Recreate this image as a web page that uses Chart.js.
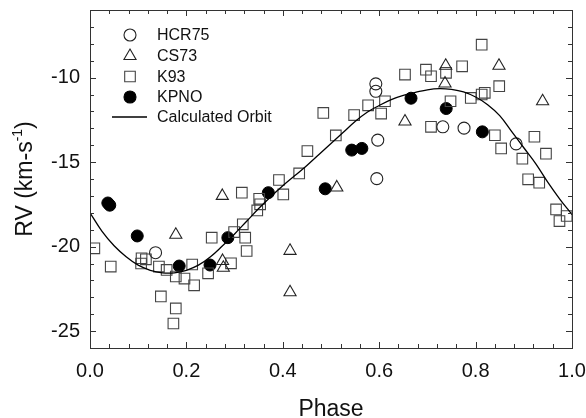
<!DOCTYPE html>
<html>
<head>
<meta charset="utf-8">
<script src="https://cdn.jsdelivr.net/npm/chart.js@4.4.0/dist/chart.umd.min.js"></script>
<style>
  html, body { margin: 0; padding: 0; background: #fff; }
  #wrap { width: 586px; height: 418px; }
</style>
</head>
<body>
<div id="wrap"><canvas id="rvChart" width="586" height="418"></canvas></div>
<script>
// Radial velocity vs orbital phase

// HCR75 (open circles)
const hcrPhase = [0.136, 0.593, 0.593, 0.597, 0.595, 0.732, 0.776, 0.884];
const hcrRV = [-20.36, -10.37, -10.81, -13.70, -15.98, -12.91, -12.99, -13.92];

// CS73 (open triangles)
const csPhase = [0.178, 0.2745, 0.275, 0.2766, 0.415, 0.415, 0.512, 0.6535, 0.738, 0.7365, 0.8485, 0.939];
const csRV = [-19.3, -17.0, -20.85, -21.25, -20.25, -22.7, -16.5, -12.6, -9.3, -10.35, -9.3, -11.4];

// K93 (open squares)
const k93Phase = [
  0.009, 0.043, 0.107, 0.106, 0.116, 0.143, 0.159, 0.178, 0.196, 0.216,
  0.147, 0.178, 0.173, 0.212, 0.245, 0.2525, 0.484, 0.510, 0.451, 0.434,
  0.392, 0.401, 0.315, 0.351, 0.353, 0.347, 0.317, 0.299, 0.322, 0.325,
  0.2925, 0.548, 0.577, 0.612, 0.604, 0.6535, 0.697, 0.7075, 0.7386, 0.7075,
  0.8126, 0.772, 0.748, 0.790, 0.8126, 0.819, 0.849, 0.840, 0.853, 0.922,
  0.897, 0.946, 0.909, 0.932, 0.967, 0.974, 0.989
];
const k93RV = [
  -20.1, -21.18, -20.69, -21.0, -20.75, -21.18, -21.38, -21.77, -21.89, -22.29,
  -22.95, -23.66, -24.55, -21.06, -21.58, -19.47, -12.09, -13.42, -14.35, -15.67,
  -16.06, -16.91, -16.81, -17.17, -17.5, -17.86, -18.68, -19.14, -19.47, -20.26,
  -20.99, -12.22, -11.64, -11.4, -12.13, -9.82, -9.53, -9.92, -9.72, -12.91,
  -8.05, -9.33, -11.4, -11.2, -11.0, -10.9, -10.51, -13.41, -14.19, -13.5,
  -14.8, -14.5, -16.02, -16.22, -17.8, -18.49, -18.19
];

// KPNO (filled circles)
const kpnoPhase = [0.037, 0.041, 0.098, 0.185, 0.249, 0.286, 0.370, 0.488, 0.543, 0.564, 0.666, 0.739, 0.814];
const kpnoRV = [-17.42, -17.55, -19.37, -21.15, -21.09, -19.47, -16.81, -16.58, -14.29, -14.19, -11.22, -11.83, -13.21];

// Calculated orbit
const orbitPhase = [
  0.0, 0.025, 0.05, 0.075, 0.1, 0.125, 0.15, 0.175, 0.2, 0.225,
  0.25, 0.275, 0.3, 0.325, 0.35, 0.375, 0.4, 0.425, 0.45, 0.475,
  0.5, 0.525, 0.55, 0.575, 0.6, 0.625, 0.65, 0.675, 0.7, 0.725,
  0.75, 0.775, 0.8, 0.825, 0.85, 0.875, 0.9, 0.925, 0.95, 0.975, 1.0
];
const orbitRV = [
  -18.0, -19.1, -19.95, -20.6, -21.1, -21.4, -21.55, -21.55, -21.4, -21.1,
  -20.6, -19.95, -19.25, -18.5, -17.75, -17.05, -16.4, -15.8, -15.2, -14.55,
  -13.9, -13.25, -12.6, -12.05, -11.65, -11.3, -11.05, -10.88, -10.72, -10.65,
  -10.7, -10.85, -11.15, -11.6, -12.25, -13.2, -14.15, -15.1, -16.2, -17.2, -18.1
];

const xTicks = [0.0, 0.2, 0.4, 0.6, 0.8, 1.0];
const yTicks = [-25, -20, -15, -10];

const FONT = '"Liberation Sans", Arial, Helvetica, sans-serif';
const INK = '#111';
const AXIS_COLOR = '#333';

function toPoints(xs, ys) {
  return xs.map((v, i) => ({ x: v, y: ys[i] }));
}

// Draw a legend marker like the chart's point styles
function drawMarker(ctx, style, x, y, r, fill, stroke) {
  ctx.beginPath();
  if (style === 'circle') {
    ctx.arc(x, y, r, 0, Math.PI * 2);
  } else if (style === 'triangle') {
    ctx.moveTo(x, y - r);
    ctx.lineTo(x + r * Math.sin(Math.PI / 3), y + r / 2);
    ctx.lineTo(x - r * Math.sin(Math.PI / 3), y + r / 2);
    ctx.closePath();
  } else if (style === 'rect') {
    const s = r * Math.SQRT1_2;
    ctx.rect(x - s, y - s, 2 * s, 2 * s);
  }
  if (fill) {
    ctx.fillStyle = fill;
    ctx.fill();
  }
  ctx.strokeStyle = stroke;
  ctx.lineWidth = 1.1;
  ctx.stroke();
}

// Box, inward ticks, axis titles and legend
const decorPlugin = {
  id: 'decor',
  afterDraw(chart) {
    const { ctx, chartArea: a, scales } = chart;
    const xs = scales.x, ys = scales.y;
    ctx.save();

    ctx.strokeStyle = AXIS_COLOR;
    ctx.lineWidth = 1;
    ctx.strokeRect(Math.round(a.left) + 0.5, Math.round(a.top) + 0.5,
      Math.round(a.right - a.left), Math.round(a.bottom - a.top));

    ctx.beginPath();
    for (let i = 0; i <= 25; i++) {
      const v = i * 0.04;
      const px = Math.round(xs.getPixelForValue(v)) + 0.5;
      const len = i % 5 === 0 ? 6 : 4;
      ctx.moveTo(px, a.bottom); ctx.lineTo(px, a.bottom - len);
      ctx.moveTo(px, a.top); ctx.lineTo(px, a.top + len);
    }
    for (let v = -26; v <= -6; v++) {
      const py = Math.round(ys.getPixelForValue(v)) + 0.5;
      const len = v % 5 === 0 ? 6 : 4;
      ctx.moveTo(a.left, py); ctx.lineTo(a.left + len, py);
      ctx.moveTo(a.right, py); ctx.lineTo(a.right - len, py);
    }
    ctx.stroke();

    // x title
    ctx.fillStyle = INK;
    ctx.font = '23px ' + FONT;
    ctx.textAlign = 'center';
    ctx.textBaseline = 'alphabetic';
    ctx.fillText('Phase', (a.left + a.right) / 2, 416);

    // y title with superscript
    const midY = (a.top + a.bottom) / 2;
    ctx.translate(32, midY);
    ctx.rotate(-Math.PI / 2);
    ctx.textAlign = 'left';
    const mainFont = '23px ' + FONT;
    const supFont = '14px ' + FONT;
    ctx.font = mainFont;
    const w1 = ctx.measureText('RV (km-s').width;
    const w3 = ctx.measureText(')').width;
    ctx.font = supFont;
    const w2 = ctx.measureText('-1').width;
    let tx = -(w1 + w2 + w3) / 2;
    ctx.font = mainFont;
    ctx.fillText('RV (km-s', tx, 0);
    tx += w1;
    ctx.font = supFont;
    ctx.fillText('-1', tx, -10);
    tx += w2;
    ctx.font = mainFont;
    ctx.fillText(')', tx, 0);
    ctx.setTransform(1, 0, 0, 1, 0, 0);

    // legend
    ctx.font = '16px ' + FONT;
    ctx.textBaseline = 'middle';
    ctx.textAlign = 'left';
    const rows = [35, 56, 76.5, 97, 117];
    chart.data.datasets.forEach((ds, i) => {
      const ly = rows[i];
      if (ds.showLine) {
        ctx.beginPath();
        ctx.strokeStyle = ds.borderColor;
        ctx.lineWidth = 1.3;
        ctx.moveTo(112, ly);
        ctx.lineTo(147, ly);
        ctx.stroke();
      } else {
        drawMarker(ctx, ds.pointStyle, 130, ly, ds.pointRadius,
          ds.pointBackgroundColor === 'transparent' ? null : ds.pointBackgroundColor,
          ds.pointBorderColor);
      }
      ctx.fillStyle = INK;
      ctx.fillText(ds.label, 157, ly + 1);
    });

    ctx.restore();
  }
};

const ctx = document.getElementById('rvChart').getContext('2d');

new Chart(ctx, {
  type: 'scatter',
  data: {
    datasets: [
      {
        label: 'HCR75',
        data: toPoints(hcrPhase, hcrRV),
        pointStyle: 'circle',
        pointRadius: 6,
        pointBackgroundColor: 'transparent',
        pointBorderColor: '#222',
        pointBorderWidth: 1.1,
        order: 2
      },
      {
        label: 'CS73',
        data: toPoints(csPhase, csRV),
        pointStyle: 'triangle',
        pointRadius: 7,
        pointBackgroundColor: 'transparent',
        pointBorderColor: '#222',
        pointBorderWidth: 1.1,
        order: 2
      },
      {
        label: 'K93',
        data: toPoints(k93Phase, k93RV),
        pointStyle: 'rect',
        pointRadius: 7.5,
        pointBackgroundColor: 'transparent',
        pointBorderColor: '#444',
        pointBorderWidth: 1.1,
        order: 2
      },
      {
        label: 'KPNO',
        data: toPoints(kpnoPhase, kpnoRV),
        pointStyle: 'circle',
        pointRadius: 6,
        pointBackgroundColor: '#000',
        pointBorderColor: '#000',
        pointBorderWidth: 1,
        order: 2
      },
      {
        label: 'Calculated Orbit',
        type: 'line',
        data: toPoints(orbitPhase, orbitRV),
        showLine: true,
        borderColor: '#000',
        borderWidth: 1.3,
        pointRadius: 0,
        tension: 0.4,
        fill: false,
        order: 1
      }
    ]
  },
  options: {
    responsive: false,
    animation: false,
    layout: { padding: 0 },
    plugins: {
      legend: { display: false },
      tooltip: { enabled: false }
    },
    scales: {
      x: {
        type: 'linear',
        min: 0,
        max: 1,
        grid: { display: false, drawTicks: false },
        border: { display: false },
        afterBuildTicks: (scale) => { scale.ticks = xTicks.map(v => ({ value: v })); },
        afterFit: (scale) => {
          scale.height = 70;
          scale.paddingLeft = 0;
          scale.paddingRight = 14;
        },
        ticks: {
          padding: 11,
          color: INK,
          font: { family: FONT, size: 20 },
          callback: (v) => Number(v).toFixed(1)
        }
      },
      y: {
        type: 'linear',
        min: -26,
        max: -6,
        grid: { display: false, drawTicks: false },
        border: { display: false },
        afterBuildTicks: (scale) => { scale.ticks = yTicks.map(v => ({ value: v })); },
        afterFit: (scale) => {
          scale.width = 90;
          scale.paddingTop = 10;
          scale.paddingBottom = 0;
        },
        ticks: {
          padding: 10,
          color: INK,
          font: { family: FONT, size: 20 },
          callback: (v) => String(v)
        }
      }
    }
  },
  plugins: [decorPlugin]
});
</script>
</body>
</html>
